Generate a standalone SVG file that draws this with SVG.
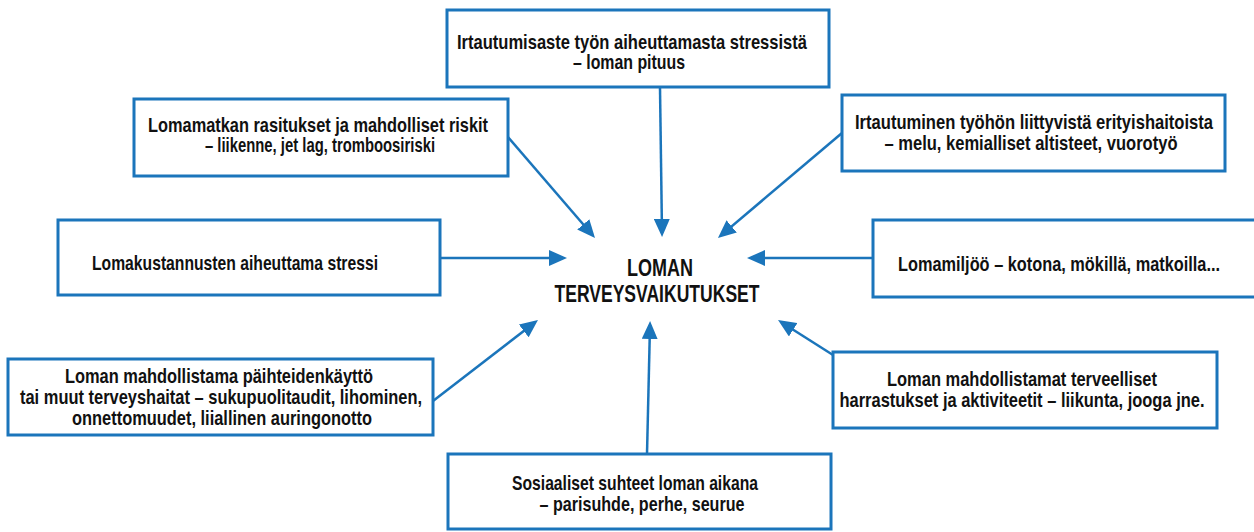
<svg xmlns="http://www.w3.org/2000/svg" width="1254" height="532" viewBox="0 0 1254 532">
<defs>
<style>
.box{fill:#fff;stroke:#1b75bb;stroke-width:3}
.t{font-family:"Liberation Sans",Arial,sans-serif;font-weight:bold;font-size:21px;fill:#111;text-anchor:middle}
.c{font-size:23px}
.ar{stroke:#1b75bb;stroke-width:2.5;fill:none;marker-end:url(#ah)}
</style>
<marker id="ah" markerUnits="userSpaceOnUse" markerWidth="18" markerHeight="16" refX="14" refY="8" orient="auto">
<path d="M0,0 L18,8 L0,16 z" fill="#1b75bb"/>
</marker>
</defs>
<rect width="1254" height="532" fill="#fff"/>
<g id="connectors">
<line class="ar" x1="660" y1="88" x2="662" y2="233"/>
<line class="ar" x1="508" y1="137" x2="592.4" y2="235"/>
<line class="ar" x1="842" y1="133" x2="721" y2="235.4"/>
<line class="ar" x1="440" y1="258" x2="563" y2="258"/>
<line class="ar" x1="873" y1="258" x2="751" y2="258"/>
<line class="ar" x1="433" y1="401" x2="534.8" y2="322.4"/>
<line class="ar" x1="647" y1="454" x2="650" y2="325"/>
<line class="ar" x1="833" y1="355" x2="781.4" y2="322.2"/>
</g>
<g id="center">
<text class="t c" x="660" y="276" textLength="66" lengthAdjust="spacingAndGlyphs">LOMAN</text>
<text class="t c" x="657" y="302" textLength="205" lengthAdjust="spacingAndGlyphs">TERVEYSVAIKUTUKSET</text>
</g>
<g id="n-top">
<rect class="box" x="447" y="10" width="382" height="77"/>
<text class="t" x="632" y="49" textLength="350" lengthAdjust="spacingAndGlyphs">Irtautumisaste työn aiheuttamasta stressistä</text>
<text class="t" x="629" y="69" textLength="112" lengthAdjust="spacingAndGlyphs">– loman pituus</text>
</g>
<g id="n-matka">
<rect class="box" x="134" y="99" width="374" height="77"/>
<text class="t" x="318" y="132" textLength="340" lengthAdjust="spacingAndGlyphs">Lomamatkan rasitukset ja mahdolliset riskit</text>
<text class="t" x="320" y="152" textLength="230" lengthAdjust="spacingAndGlyphs">– liikenne, jet lag, tromboosiriski</text>
</g>
<g id="n-erityis">
<rect class="box" x="842" y="95" width="383" height="76"/>
<text class="t" x="1034" y="129" textLength="358" lengthAdjust="spacingAndGlyphs">Irtautuminen työhön liittyvistä erityishaitoista</text>
<text class="t" x="1031" y="150" textLength="293" lengthAdjust="spacingAndGlyphs">– melu, kemialliset altisteet, vuorotyö</text>
</g>
<g id="n-kustannus">
<rect class="box" x="58" y="220" width="382" height="75"/>
<text class="t" x="235" y="270" textLength="286" lengthAdjust="spacingAndGlyphs">Lomakustannusten aiheuttama stressi</text>
</g>
<g id="n-miljoo">
<rect class="box" x="873" y="220" width="390" height="77"/>
<text class="t" x="1059" y="271" textLength="322" lengthAdjust="spacingAndGlyphs">Lomamiljöö – kotona, mökillä, matkoilla...</text>
</g>
<g id="n-paihde">
<rect class="box" x="8" y="359" width="425" height="76"/>
<text class="t" x="219" y="383" textLength="308" lengthAdjust="spacingAndGlyphs">Loman mahdollistama päihteidenkäyttö</text>
<text class="t" x="221" y="404" textLength="402" lengthAdjust="spacingAndGlyphs">tai muut terveyshaitat – sukupuolitaudit, lihominen,</text>
<text class="t" x="222" y="425" textLength="300" lengthAdjust="spacingAndGlyphs">onnettomuudet, liiallinen auringonotto</text>
</g>
<g id="n-harrastus">
<rect class="box" x="833" y="352" width="384" height="76"/>
<text class="t" x="1022" y="386" textLength="270" lengthAdjust="spacingAndGlyphs">Loman mahdollistamat terveelliset</text>
<text class="t" x="1022" y="407" textLength="365" lengthAdjust="spacingAndGlyphs">harrastukset ja aktiviteetit – liikunta, jooga jne.</text>
</g>
<g id="n-sosiaal">
<rect class="box" x="448" y="454" width="383" height="75"/>
<text class="t" x="635" y="490" textLength="246" lengthAdjust="spacingAndGlyphs">Sosiaaliset suhteet loman aikana</text>
<text class="t" x="642" y="511" textLength="205" lengthAdjust="spacingAndGlyphs">– parisuhde, perhe, seurue</text>
</g>
</svg>
